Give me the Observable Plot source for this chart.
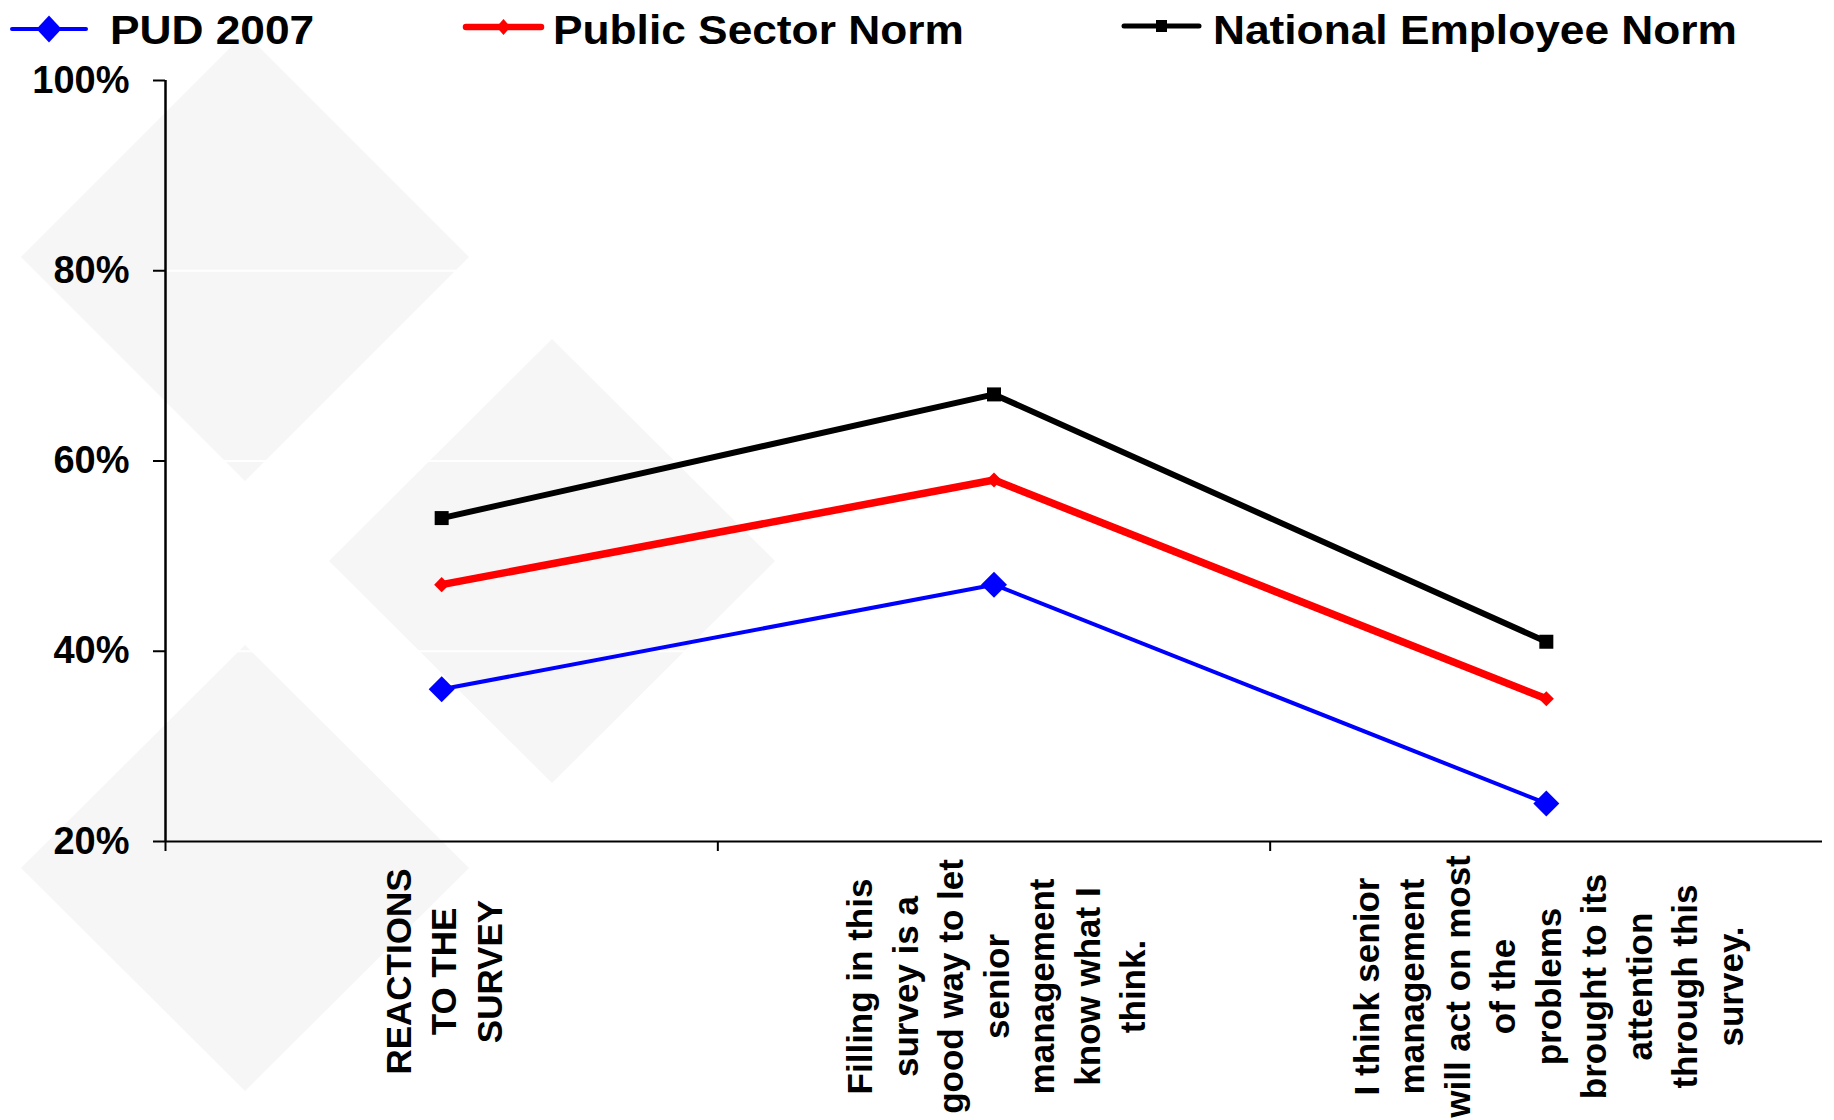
<!DOCTYPE html>
<html>
<head>
<meta charset="utf-8">
<script src="https://cdn.jsdelivr.net/npm/d3@7"></script>
<script src="https://cdn.jsdelivr.net/npm/@observablehq/plot@0.6"></script>
<style>
  html, body { margin: 0; padding: 0; background: #fff; }
  #page { position: relative; width: 1834px; height: 1120px; overflow: hidden; font-family: "Liberation Sans", Arial, sans-serif; }
  #watermark { position: absolute; left: 0; top: 0; z-index: 0; }
  #legend { position: relative; height: 56px; z-index: 1; }
  #legend svg { display: block; }
  #chart { position: relative; z-index: 1; }
</style>
</head>
<body>
<div id="page">
  <!-- faint diamond watermark behind the chart -->
  <svg id="watermark" width="1834" height="1120">
    <g fill="#f6f6f6">
      <polygon points="21,257 245,33 469,257 245,481"/>
      <polygon points="329,561 552,339 775,561 552,783"/>
      <polygon points="21,868 245,645 469,868 245,1091"/>
    </g>
  </svg>
  <div id="legend"></div>
  <div id="chart"></div>
</div>
<script>
// Category labels (x axis), one per survey item
const categories = [
  "REACTIONS\nTO THE\nSURVEY",
  "Filling in this\nsurvey is a\ngood way to let\nsenior\nmanagement\nknow what I\nthink.",
  "I think senior\nmanagement\nwill act on most\nof the\nproblems\nbrought to its\nattention\nthrough this\nsurvey."
];

// Series names and their percentage values
const seriesNames = ["PUD 2007", "Public Sector Norm", "National Employee Norm"];
const pud2007 = [36, 47, 24];
const publicSectorNorm = [47, 58, 35];
const nationalEmployeeNorm = [54, 67, 41];

// Y axis ticks (percent)
const yTicks = [20, 40, 60, 80, 100];

const seriesColors = ["#0000ff", "#ff0000", "#000000"];
const seriesStyle = [
  {width: 4, symbol: "diamond2", r: 11.7},
  {width: 7.5, symbol: "diamond2", r: 6.8},
  {width: 6, symbol: "square", r: 7.9}
];

const valuesBySeries = [pud2007, publicSectorNorm, nationalEmployeeNorm];
const rows = seriesNames.flatMap((s, k) =>
  valuesBySeries[k].map((v, i) => ({series: s, index: i, value: v}))
);

// Legend: line swatch with marker, then the series name
const ns = "http://www.w3.org/2000/svg";
const lg = document.createElementNS(ns, "svg");
lg.setAttribute("width", 1834);
lg.setAttribute("height", 56);
const swatches = [
  {x1: 12, x2: 86, y: 29, w: 4, text: 110},
  {x1: 466, x2: 541, y: 27, w: 6.5, text: 553},
  {x1: 1124, x2: 1199, y: 26, w: 5, text: 1213}
];
swatches.forEach((sw, k) => {
  const c = seriesColors[k];
  const cx = (sw.x1 + sw.x2) / 2;
  let marker;
  if (k === 2) marker = `<rect x="${cx - 5.5}" y="${sw.y - 6}" width="11" height="12" fill="${c}"/>`;
  else {
    const hw = k === 0 ? 12.5 : 7, hh = k === 0 ? 13.5 : 8;
    marker = `<polygon points="${cx},${sw.y - hh} ${cx + hw},${sw.y} ${cx},${sw.y + hh} ${cx - hw},${sw.y}" fill="${c}"/>`;
  }
  const g = document.createElementNS(ns, "g");
  g.innerHTML =
    `<line x1="${sw.x1}" x2="${sw.x2}" y1="${sw.y}" y2="${sw.y}" stroke="${c}" stroke-width="${sw.w}" stroke-linecap="round"/>` +
    marker +
    `<text transform="translate(${sw.text},44) scale(1.08,1)" font-family="'Liberation Sans', Arial, sans-serif" font-size="41" font-weight="bold" fill="#000">${seriesNames[k]}</text>`;
  lg.appendChild(g);
});
document.getElementById("legend").appendChild(lg);

const x = d => d.index + 0.5;
const labelStyle = {
  frameAnchor: "bottom", rotate: -90, textAnchor: "middle", lineAnchor: "middle",
  lineHeight: 1.3, fontSize: 35, fontWeight: "bold", fill: "#000"
};

const marks = [
  // white gridlines (visible over the watermark only)
  Plot.ruleY([40, 60, 80], {stroke: "#fff", strokeWidth: 2}),
  Plot.axisY({ticks: yTicks, tickFormat: d => d + "%", tickSize: 12, tickPadding: 24, label: null,
    fontSize: 38, fontWeight: "bold", stroke: "#000", strokeWidth: 2}),
  Plot.axisX({ticks: [0, 1, 2], tickSize: 10, tickFormat: () => "", label: null, stroke: "#000", strokeWidth: 2}),
  Plot.ruleY([20], {stroke: "#000", strokeWidth: 2}),
  Plot.ruleX([0], {stroke: "#000", strokeWidth: 2.5}),
  // first label block sits a little higher than the two longer ones
  Plot.text(categories.slice(0, 1), {x: (d, i) => i + 0.5, dy: 130, ...labelStyle}),
  Plot.text(categories.slice(1), {x: (d, i) => i + 1.5, dy: 145, ...labelStyle})
];

// Draw each series line with its own width, then its markers
[2, 1, 0].forEach(k => {
  const st = seriesStyle[k];
  const data = rows.filter(r => r.series === seriesNames[k]);
  marks.push(Plot.line(data, {x, y: "value", stroke: seriesColors[k], strokeWidth: st.width, strokeLinejoin: "miter"}));
  marks.push(Plot.dot(data, {x, y: "value", symbol: st.symbol, r: st.r, fill: seriesColors[k], stroke: "none"}));
});

const chart = Plot.plot({
  width: 1834,
  height: 1064,
  marginTop: 24,
  marginBottom: 279,
  marginLeft: 165,
  marginRight: 12,
  style: {background: "transparent", fontFamily: "'Liberation Sans', Arial, sans-serif", overflow: "visible", color: "#000"},
  x: {type: "linear", domain: [0, 3]},
  y: {type: "linear", domain: [20, 100]},
  marks
});
document.getElementById("chart").appendChild(chart);
</script>
</body>
</html>
